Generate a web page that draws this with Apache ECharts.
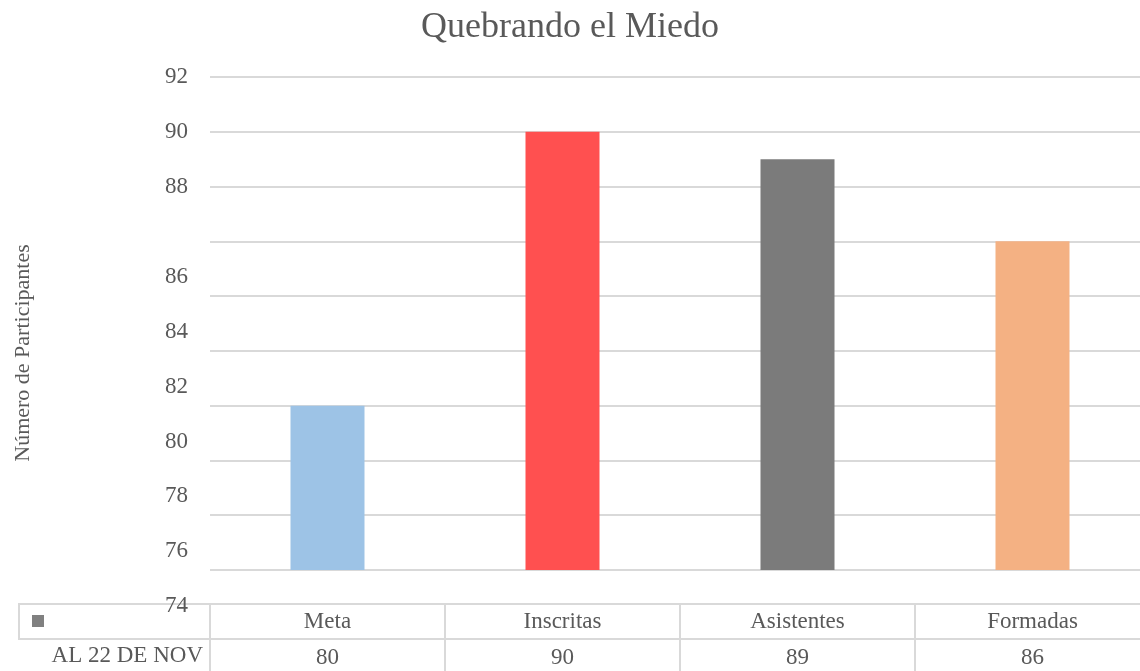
<!DOCTYPE html>
<html>
<head>
<meta charset="utf-8">
<script src="https://cdn.jsdelivr.net/npm/echarts@6/dist/echarts.min.js"></script>
<style>
  html, body { margin: 0; padding: 0; background: #fff; }
  #main { width: 1140px; height: 671px; }
</style>
</head>
<body>
<div id="main"></div>
<script>
// datos del grafico
var categories = ['Meta', 'Inscritas', 'Asistentes', 'Formadas'];
var values = [80, 90, 89, 86];
var seriesName = 'AL 22 DE NOV';
var barColors = ['#9dc3e6', '#ff5050', '#7b7b7b', '#f4b183'];

var FONT = '"Liberation Serif", "Times New Roman", serif';
var GRAY = '#595959';
var LINE = '#d9d9d9';

var chart = echarts.init(document.getElementById('main'));
chart.setOption({
    animation: false,
    title: {
        text: 'Quebrando el Miedo',
        left: 'center',
        top: 5,
        textStyle: { fontFamily: FONT, fontSize: 36, fontWeight: 'normal', color: GRAY }
    },
    legend: {
        data: [seriesName],
        left: 27,
        top: 610,
        itemWidth: 12,
        itemHeight: 12,
        icon: 'rect',
        formatter: function () { return ''; },
        selectedMode: false
    },
    grid: [
        { left: 210, width: 940, top: 77, height: 493, outerBoundsMode: 'none' },      // grafico
        { left: 210, width: 940, top: 604, height: 70, show: true, borderColor: LINE, borderWidth: 2, outerBoundsMode: 'none' },   // tabla de datos
        { left: 19, width: 191, top: 604, height: 35, show: true, borderColor: LINE, borderWidth: 2, outerBoundsMode: 'none' }    // leyenda
    ],
    xAxis: [
        {
            type: 'category', gridIndex: 0, data: categories,
            axisLine: { show: false }, axisTick: { show: false }, axisLabel: { show: false }
        },
        {
            type: 'category', gridIndex: 1, data: categories, position: 'top',
            axisLine: { show: false }, axisTick: { show: false },
            splitLine: { show: true, lineStyle: { color: LINE, width: 2 } },
            axisLabel: { inside: true, margin: 6, fontFamily: FONT, fontSize: 23, color: GRAY }
        },
        {
            type: 'category', gridIndex: 1, data: categories, position: 'bottom',
            axisLine: { show: false }, axisTick: { show: false },
            axisLabel: {
                inside: true, margin: 5, fontFamily: FONT, fontSize: 23, color: GRAY,
                formatter: function (v, i) { return String(values[i]); }
            }
        },
        { type: 'value', gridIndex: 2, show: false }
    ],
    yAxis: [
        {
            type: 'value', gridIndex: 0, min: 74, max: 92, interval: 2,
            axisLine: { show: false }, axisTick: { show: false },
            splitLine: { lineStyle: { color: LINE, width: 2 } },
            axisLabel: {
                margin: 22, fontFamily: FONT, fontSize: 23, color: GRAY,
                formatter: function (v) { return v >= 88 ? '{a|' + v + '}' : '{b|' + v + '}'; },
                rich: {
                    a: { fontFamily: FONT, fontSize: 23, color: GRAY },
                    b: { fontFamily: FONT, fontSize: 23, color: GRAY, padding: [72, 0, 0, 0] }
                }
            }
        },
        {
            type: 'value', gridIndex: 1, min: 0, max: 2, interval: 1,
            axisLine: { show: false }, axisTick: { show: false }, axisLabel: { show: false },
            splitLine: { show: true, lineStyle: { color: LINE, width: 2 } }
        },
        { type: 'value', gridIndex: 2, show: false }
    ],
    graphic: [
        {
            type: 'text', right: 1140 - 203, top: 644,
            style: { text: seriesName, font: '23px ' + FONT, fill: GRAY }
        },
        {
            type: 'text', x: 23, y: 353, rotation: Math.PI / 2,
            style: { text: 'Número de Participantes', font: '22px ' + FONT, fill: GRAY, align: 'center', verticalAlign: 'middle' }
        }
    ],
    series: [{
        name: seriesName,
        type: 'bar',
        xAxisIndex: 0,
        yAxisIndex: 0,
        barWidth: 74,
        itemStyle: { color: '#808080' },
        data: values.map(function (v, i) {
            return { value: v, itemStyle: { color: barColors[i] } };
        })
    }]
});
</script>
</body>
</html>
